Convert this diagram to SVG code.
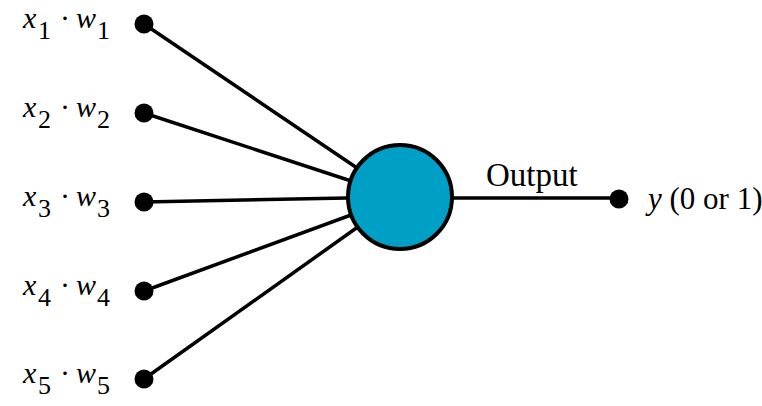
<svg xmlns="http://www.w3.org/2000/svg" width="762" height="406" viewBox="0 0 762 406">
<style>
.edge{stroke:#000;stroke-width:3.5;fill:none}
.dot{fill:#000}
.lab{font-family:'Liberation Serif','Times New Roman','DejaVu Serif',serif;font-size:30px;fill:#000}
.it{font-style:italic}
.sub{font-size:26px}
</style>
<rect width="762" height="406" fill="#fff"/>
<g id="connectors">
<line class="edge" x1="144" y1="24" x2="400" y2="197"/>
<line class="edge" x1="144" y1="113" x2="400" y2="197"/>
<line class="edge" x1="144" y1="202" x2="400" y2="197"/>
<line class="edge" x1="144" y1="291" x2="400" y2="197"/>
<line class="edge" x1="144" y1="379" x2="400" y2="197"/>
<line class="edge" x1="400" y1="198" x2="619" y2="198"/>
</g>
<g id="neuron">
<circle cx="400" cy="197" r="52" fill="#009FC6" stroke="#000" stroke-width="4"/>
</g>
<g id="in1"><circle class="dot" cx="144" cy="24" r="9.5"/>
<text class="lab" y="28"><tspan class="it" x="23">x</tspan><tspan class="sub" x="38" dy="11">1</tspan><tspan x="60" dy="-11">·</tspan><tspan class="it" x="76">w</tspan><tspan class="sub" x="97" dy="11">1</tspan></text></g>
<g id="in2"><circle class="dot" cx="144" cy="113" r="9.5"/>
<text class="lab" y="117"><tspan class="it" x="23">x</tspan><tspan class="sub" x="38" dy="11">2</tspan><tspan x="60" dy="-11">·</tspan><tspan class="it" x="76">w</tspan><tspan class="sub" x="97" dy="11">2</tspan></text></g>
<g id="in3"><circle class="dot" cx="144" cy="202" r="9.5"/>
<text class="lab" y="206"><tspan class="it" x="23">x</tspan><tspan class="sub" x="38" dy="11">3</tspan><tspan x="60" dy="-11">·</tspan><tspan class="it" x="76">w</tspan><tspan class="sub" x="97" dy="11">3</tspan></text></g>
<g id="in4"><circle class="dot" cx="144" cy="291" r="9.5"/>
<text class="lab" y="295"><tspan class="it" x="23">x</tspan><tspan class="sub" x="38" dy="11">4</tspan><tspan x="60" dy="-11">·</tspan><tspan class="it" x="76">w</tspan><tspan class="sub" x="97" dy="11">4</tspan></text></g>
<g id="in5"><circle class="dot" cx="144" cy="379" r="9.5"/>
<text class="lab" y="383"><tspan class="it" x="23">x</tspan><tspan class="sub" x="38" dy="11">5</tspan><tspan x="60" dy="-11">·</tspan><tspan class="it" x="76">w</tspan><tspan class="sub" x="97" dy="11">5</tspan></text></g>
<g id="output"><circle class="dot" cx="619" cy="199" r="9.5"/>
<text class="lab" x="486" y="186" style="font-size:33px">Output</text>
<text class="lab" x="648" y="209" style="font-size:31px"><tspan class="it">y</tspan> (0 or 1)</text></g>
</svg>
